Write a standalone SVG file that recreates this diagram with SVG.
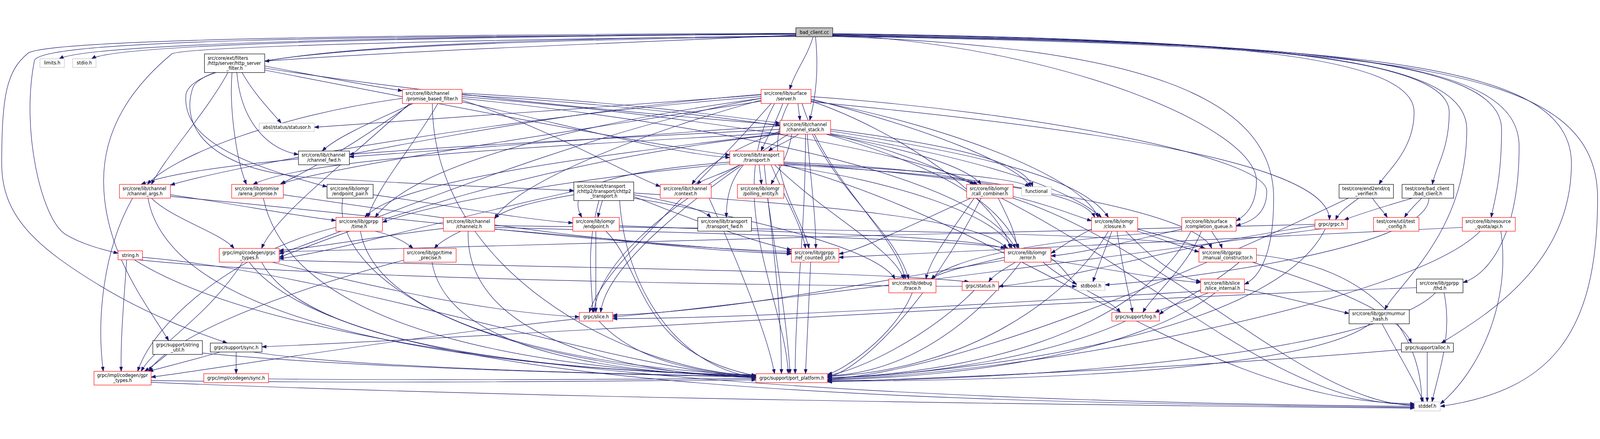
<svg xmlns="http://www.w3.org/2000/svg" width="4648" height="1124" viewBox="0 0 4648 1124">
<style>
svg{max-width:100vw;max-height:100vh}
.node rect{fill:#fff;stroke:#000;stroke-width:1.33}
.red rect{stroke:#ff0000}
.ext rect{stroke:#bfbfbf}
.root rect{fill:#bfbfbf;stroke:#000}
text{font-family:"DejaVu Sans","Liberation Sans",sans-serif;font-size:13px;fill:#000}
.m{text-anchor:middle}
.edge path{fill:none;stroke:#191970;stroke-width:1.33;marker-end:url(#ah)}
</style>
<defs>
<marker id="ah" markerUnits="userSpaceOnUse" markerWidth="14" markerHeight="10" refX="13" refY="5" orient="auto"><path d="M0,0.3 L13,5 L0,9.7 z" fill="#191970" stroke="#191970" stroke-width="1"/></marker>
</defs>
<rect x="0" y="0" width="4648" height="1124" fill="#fff"/>
<g id="edges" class="edge">
<path d="M2312,22 C1200,30 260,50 172,95"/>
<path d="M2312,23 C1200,32 340,52 266,95"/>
<path d="M2312,26 C1800,50 1200,70 769,102"/>
<path d="M2362,31 C2345,90 2310,130 2294,184"/>
<path d="M2369,31 C2378,120 2372,200 2352,274"/>
<path d="M2312,28 C1400,40 560,60 540,200 C530,330 700,400 950,467"/>
<path d="M2312,30 C1300,45 600,70 560,180 C520,300 620,420 900,440 C1200,460 1500,470 1667,478"/>
<path d="M2419,22 C3500,35 4108,80 4108,250 C4108,360 4030,420 4006,460"/>
<path d="M2419,23 C3600,40 4210,90 4210,250 C4210,360 4170,410 4161,460"/>
<path d="M2419,26 C3800,45 4362,100 4362,300 C4362,450 4340,510 4332,556"/>
<path d="M2419,24 C3700,40 4261,90 4261,300 C4261,600 4060,750 4023,824"/>
<path d="M2419,27 C3900,50 4413,100 4413,350 C4413,600 4330,720 4250,745"/>
<path d="M2419,28 C4000,55 4565,110 4565,400 C4565,700 4300,850 4187,921"/>
<path d="M2419,29 C4100,60 4641,120 4641,500 C4641,900 4500,1060 4184,1105"/>
<path d="M2312,24 C1000,30 120,40 100,100 C60,300 120,560 190,605 C240,635 300,650 343,660"/>
<path d="M2312,21 C1000,26 120,40 80,80 C20,130 5,200 5,400 C5,550 100,640 300,760 C450,850 600,900 660,921"/>
<path d="M2312,29 C1300,40 560,60 500,80 C380,180 301,300 301,450 C301,650 420,800 490,914"/>
<path d="M2419,30 C3300,60 3700,200 3700,500 C3700,680 3650,735 3615,750"/>
<path d="M2419,25 C3100,60 3650,300 3650,450 C3650,520 3620,550 3591,566"/>
<path d="M2356,205 C3000,250 3680,380 3680,480 C3680,550 3630,570 3591,580"/>
<path d="M769,116 C950,150 1050,170 1169,188"/>
<path d="M769,122 C1200,190 1800,250 2266,287"/>
<path d="M662,135 C600,250 480,380 440,460"/>
<path d="M674,135 C665,250 690,400 716,460"/>
<path d="M703,135 C740,200 790,250 817,282"/>
<path d="M688,135 C700,280 780,360 867,373"/>
<path d="M769,128 C1300,230 1800,330 2120,375"/>
<path d="M2318,225 C2320,245 2322,255 2324,274"/>
<path d="M2274,225 C2255,280 2225,330 2211,363"/>
<path d="M2356,220 C3200,300 3862,400 3862,563"/>
<path d="M2211,205 C1500,260 700,400 495,462"/>
<path d="M2211,215 C1900,300 1500,450 1437,560"/>
<path d="M2330,225 C2400,450 2600,600 2630,735"/>
<path d="M2211,200 C1800,230 1300,270 913,294"/>
<path d="M2211,210 C1700,300 1000,600 811,662"/>
<path d="M2290,225 C2200,400 2330,550 2350,646"/>
<path d="M2250,225 C2100,500 2280,800 2290,1010"/>
<path d="M2356,212 C2700,300 2950,400 2995,467"/>
<path d="M2211,210 C1700,280 1200,400 1090,556"/>
<path d="M2211,198 C1700,240 1300,320 1015,373"/>
<path d="M2211,218 C1700,300 1000,400 816,458"/>
<path d="M2356,218 C2600,300 2900,500 2935,646"/>
<path d="M2240,225 C2000,500 1750,700 1712,832"/>
<path d="M2356,215 C2800,300 3150,450 3190,556"/>
<path d="M1342,195 C1800,220 2100,260 2266,282"/>
<path d="M1169,210 C800,260 500,380 428,460"/>
<path d="M1200,225 C1100,270 980,320 936,363"/>
<path d="M1195,225 C1050,330 900,420 815,458"/>
<path d="M1342,215 C1600,300 1800,420 1918,466"/>
<path d="M1272,225 C1200,350 1100,460 1068,556"/>
<path d="M1342,205 C2000,260 2600,350 2840,460"/>
<path d="M1342,200 C2200,250 3000,380 3200,556"/>
<path d="M1342,210 C2200,300 2850,450 2950,646"/>
<path d="M1342,220 C1700,300 1950,370 2120,382"/>
<path d="M1256,225 C1256,700 1800,1000 2196,1016"/>
<path d="M1190,225 C1000,400 800,550 760,646"/>
<path d="M2320,314 C2290,335 2250,350 2232,363"/>
<path d="M2266,305 C2150,350 2050,400 2010,460"/>
<path d="M2300,314 C2290,380 2260,420 2240,460"/>
<path d="M2400,314 C2600,350 2800,400 2850,460"/>
<path d="M2413,300 C2800,350 2980,400 3000,467"/>
<path d="M2266,290 C1800,320 1300,360 1015,380"/>
<path d="M2266,300 C1500,340 600,380 410,460"/>
<path d="M2266,310 C1600,350 900,380 735,460"/>
<path d="M2266,312 C1700,380 1150,450 1060,556"/>
<path d="M2413,305 C2900,380 3150,450 3220,556"/>
<path d="M2400,314 C2700,400 2900,500 2960,646"/>
<path d="M2360,314 C2450,500 2600,600 2640,735"/>
<path d="M2266,314 C1500,400 1000,600 811,672"/>
<path d="M2340,314 C2340,600 2310,800 2310,1010"/>
<path d="M2413,314 C3200,500 3600,1100 4109,1100"/>
<path d="M2345,314 C2355,450 2370,550 2370,646"/>
<path d="M2290,314 C2000,500 1760,700 1745,832"/>
<path d="M2150,403 C2100,430 2040,445 2025,460"/>
<path d="M2205,403 C2208,425 2210,440 2212,460"/>
<path d="M2160,403 C2120,450 2110,500 2110,556"/>
<path d="M2277,395 C2600,410 2780,430 2830,460"/>
<path d="M2277,400 C2700,420 2950,440 2990,467"/>
<path d="M2120,395 C1700,430 1650,480 1690,556"/>
<path d="M2277,403 C2800,430 3150,480 3180,556"/>
<path d="M2260,403 C2600,450 2900,550 2940,646"/>
<path d="M2240,403 C2280,500 2330,580 2340,646"/>
<path d="M2250,403 C2400,550 2600,650 2625,735"/>
<path d="M2120,400 C1600,450 1250,520 1111,570"/>
<path d="M2220,403 C2240,600 2270,800 2270,1010"/>
<path d="M2277,403 C3000,600 3500,1097 4109,1097"/>
<path d="M2150,403 C1900,550 1740,700 1725,832"/>
<path d="M2277,398 C3000,450 3480,550 3520,646"/>
<path d="M385,500 C300,650 280,850 300,1003"/>
<path d="M440,500 C500,560 640,600 680,646"/>
<path d="M495,490 C700,520 850,550 976,565"/>
<path d="M495,495 C1200,560 1800,640 2299,655"/>
<path d="M430,500 C500,900 1500,1000 2196,1016"/>
<path d="M765,500 C850,900 1600,1000 2196,1018"/>
<path d="M823,490 C1300,560 1900,650 2299,662"/>
<path d="M1084,490 C1300,520 1500,560 1664,572"/>
<path d="M996,500 C960,700 1300,980 2196,1020"/>
<path d="M1750,507 C1745,525 1740,540 1737,556"/>
<path d="M1841,490 C1950,510 2040,530 2065,556"/>
<path d="M1667,490 C1550,510 1470,530 1437,558"/>
<path d="M1841,500 C2200,560 2550,650 2600,735"/>
<path d="M1841,495 C2000,560 2200,630 2299,650"/>
<path d="M1841,485 C2400,520 2850,560 2925,646"/>
<path d="M1740,507 C1700,650 1720,750 1722,832"/>
<path d="M1667,480 C1300,560 1000,650 811,676"/>
<path d="M1800,507 C1820,800 2000,1000 2196,1020"/>
<path d="M2060,500 C2150,700 2230,900 2250,1010"/>
<path d="M2230,500 C2260,700 2290,900 2295,1010"/>
<path d="M2943,495 C3050,520 3120,550 3171,566"/>
<path d="M2830,500 C2760,600 2700,680 2690,735"/>
<path d="M2820,500 C2600,600 2500,650 2437,662"/>
<path d="M2850,500 C2700,800 2500,1000 2404,1020"/>
<path d="M2943,500 C3400,650 3800,1100 4109,1102"/>
<path d="M2900,500 C2930,560 2950,600 2955,646"/>
<path d="M3947,500 C3920,520 3890,540 3880,563"/>
<path d="M3987,500 C4000,520 4020,540 4030,556"/>
<path d="M3917,500 C3500,700 2800,1000 2404,1026"/>
<path d="M4103,500 C4000,530 3940,550 3905,563"/>
<path d="M4130,500 C4110,520 4090,540 4080,556"/>
<path d="M4151,500 C4150,650 3400,740 3210,752"/>
<path d="M1090,596 C1150,610 1180,630 1200,646"/>
<path d="M1047,596 C1100,900 1800,1000 2196,1014"/>
<path d="M976,585 C700,650 450,850 400,1003"/>
<path d="M1338,596 C1300,615 1275,630 1262,646"/>
<path d="M1288,588 C1100,610 950,640 811,652"/>
<path d="M1437,590 C1800,620 2100,650 2299,660"/>
<path d="M1360,596 C1350,900 1800,1010 2196,1022"/>
<path d="M1437,585 C2000,600 2800,620 2930,646"/>
<path d="M1437,580 C2300,590 3400,600 3500,646"/>
<path d="M1731,596 C1731,700 1731,780 1731,832"/>
<path d="M1760,596 C1870,700 1850,950 2196,1016"/>
<path d="M1799,580 C2300,600 2800,610 2920,646"/>
<path d="M3230,596 C3210,650 3190,700 3175,743"/>
<path d="M3245,596 C3260,700 3280,780 3290,832"/>
<path d="M3305,596 C3380,620 3440,645 3483,656"/>
<path d="M3171,590 C3110,620 3080,645 3053,660"/>
<path d="M3220,596 C3100,800 2800,1000 2404,1018"/>
<path d="M3305,590 C3700,700 4050,800 4100,921"/>
<path d="M3270,596 C3350,680 3420,730 3488,742"/>
<path d="M3520,596 C3530,615 3545,630 3550,646"/>
<path d="M3433,590 C3300,620 3150,660 3053,668"/>
<path d="M3433,596 C3000,620 2760,680 2705,735"/>
<path d="M3460,596 C3300,900 2800,1010 2404,1022"/>
<path d="M3490,596 C3450,700 3350,780 3320,832"/>
<path d="M3820,576 C3000,600 1500,630 811,656"/>
<path d="M3820,580 C3400,640 3100,740 2901,756"/>
<path d="M3840,589 C3000,700 2000,830 1780,845"/>
<path d="M3850,589 C3700,900 2800,1010 2404,1022"/>
<path d="M4360,596 C4390,800 4300,1000 4184,1098"/>
<path d="M4300,596 C4100,800 3000,1010 2404,1026"/>
<path d="M4248,585 C3500,620 2800,660 2437,672"/>
<path d="M368,679 C360,800 350,900 352,1003"/>
<path d="M414,672 C1000,720 1800,1000 2196,1020"/>
<path d="M400,679 C1000,740 2500,760 3128,756"/>
<path d="M390,679 C900,1000 2500,1090 4109,1105"/>
<path d="M705,686 C600,850 450,930 410,1003"/>
<path d="M811,680 C1500,700 2500,710 2815,743"/>
<path d="M790,686 C1100,760 1400,830 1683,845"/>
<path d="M760,686 C900,950 1700,1005 2196,1014"/>
<path d="M724,686 C1000,1050 2500,1090 4109,1108"/>
<path d="M1173,680 C800,780 500,900 432,1003"/>
<path d="M1255,686 C1300,950 1800,1010 2196,1018"/>
<path d="M2355,686 C2350,800 2345,900 2340,1010"/>
<path d="M2918,672 C2800,700 2730,715 2705,735"/>
<path d="M2950,686 C2910,710 2885,725 2872,743"/>
<path d="M3053,675 C3090,700 3110,740 3128,750"/>
<path d="M2918,680 C2500,750 2100,830 1780,840"/>
<path d="M3030,686 C3100,750 3220,790 3255,832"/>
<path d="M3053,680 C3300,720 3400,740 3488,745"/>
<path d="M2965,686 C2800,900 2600,1010 2404,1016"/>
<path d="M3600,686 C3500,770 3400,810 3368,838"/>
<path d="M3650,665 C4000,700 4130,900 4130,1092"/>
<path d="M2650,775 C2600,900 2450,1000 2404,1012"/>
<path d="M2830,768 C2700,900 2500,1000 2404,1015"/>
<path d="M3510,775 C3450,800 3390,815 3355,832"/>
<path d="M3488,770 C3000,800 2200,850 1780,850"/>
<path d="M3615,765 C3750,790 3850,820 3919,835"/>
<path d="M3530,775 C3300,950 2800,1020 2404,1028"/>
<path d="M4115,760 C3000,800 1500,900 761,932"/>
<path d="M4170,775 C4000,950 3000,1030 2404,1030"/>
<path d="M4195,775 C4220,900 4180,1000 4160,1092"/>
<path d="M1740,857 C1850,980 2050,1010 2196,1014"/>
<path d="M1683,850 C1200,900 600,1000 439,1020"/>
<path d="M3270,857 C3000,980 2600,1020 2404,1022"/>
<path d="M3980,865 C3800,1000 3000,1030 2404,1032"/>
<path d="M4015,865 C4060,950 4110,1030 4135,1092"/>
<path d="M485,954 C460,975 440,990 420,1003"/>
<path d="M588,950 C1000,990 1700,1010 2196,1020"/>
<path d="M640,947 C560,970 480,990 432,1003"/>
<path d="M686,947 C686,970 686,990 686,1010"/>
<path d="M735,947 C1000,990 1700,1010 2196,1018"/>
<path d="M4071,940 C3500,990 2800,1020 2404,1034"/>
<path d="M4146,947 C4146,1000 4146,1050 4146,1092"/>
<path d="M439,1035 C1500,1080 3000,1100 4109,1110"/>
<path d="M439,1030 C1200,1040 1800,1030 2196,1028"/>
<path d="M780,1025 C1200,1030 1800,1026 2196,1024"/>
</g>
<g id="n0" class="node root"><rect x="2312" y="5" width="107" height="26"/><text class="m" x="2365.5" y="22.5">bad_client.cc</text></g>
<g id="n1" class="node ext"><rect x="116" y="95" width="71" height="25"/><text class="m" x="151.5" y="112">limits.h</text></g>
<g id="n2" class="node ext"><rect x="211" y="95" width="68" height="25"/><text class="m" x="245" y="112">stdio.h</text></g>
<g id="n3" class="node"><rect x="594" y="81" width="175" height="54"/><text x="603" y="98">src/core/ext/filters</text><text x="603" y="112.5">/http/server/http_server</text><text class="m" x="681.5" y="127">_filter.h</text></g>
<g id="n4" class="node red"><rect x="2211" y="184" width="145" height="41"/><text x="2220" y="200.5">src/core/lib/surface</text><text class="m" x="2283.5" y="215.5">/server.h</text></g>
<g id="n5" class="node red"><rect x="1169" y="184" width="173" height="41"/><text x="1178" y="200.5">src/core/lib/channel</text><text class="m" x="1255.5" y="215.5">/promise_based_filter.h</text></g>
<g id="n6" class="node ext"><rect x="753" y="282" width="160" height="24"/><text class="m" x="833" y="298.5">absl/status/statusor.h</text></g>
<g id="n7" class="node red"><rect x="2266" y="274" width="147" height="40"/><text x="2275" y="290.5">src/core/lib/channel</text><text class="m" x="2339.5" y="305.5">/channel_stack.h</text></g>
<g id="n8" class="node"><rect x="867" y="363" width="148" height="40"/><text x="876" y="379.5">src/core/lib/channel</text><text class="m" x="941" y="394.5">/channel_fwd.h</text></g>
<g id="n9" class="node red"><rect x="2120" y="363" width="157" height="40"/><text x="2129" y="379.5">src/core/lib/transport</text><text class="m" x="2198.5" y="394.5">/transport.h</text></g>
<g id="n10" class="node red"><rect x="347" y="460" width="148" height="40"/><text x="356" y="476.5">src/core/lib/channel</text><text class="m" x="421" y="491.5">/channel_args.h</text></g>
<g id="n11" class="node red"><rect x="673" y="460" width="150" height="40"/><text x="682" y="476.5">src/core/lib/promise</text><text class="m" x="748" y="491.5">/arena_promise.h</text></g>
<g id="n12" class="node"><rect x="950" y="460" width="134" height="40"/><text x="959" y="476.5">src/core/lib/iomgr</text><text class="m" x="1017" y="491.5">/endpoint_pair.h</text></g>
<g id="n13" class="node"><rect x="1667" y="453" width="174" height="54"/><text x="1676" y="470">src/core/ext/transport</text><text x="1676" y="484.5">/chttp2/transport/chttp2</text><text class="m" x="1754" y="499">_transport.h</text></g>
<g id="n14" class="node red"><rect x="1918" y="460" width="148" height="40"/><text x="1927" y="476.5">src/core/lib/channel</text><text class="m" x="1992" y="491.5">/context.h</text></g>
<g id="n15" class="node red"><rect x="2142" y="460" width="135" height="40"/><text x="2151" y="476.5">src/core/lib/iomgr</text><text class="m" x="2209.5" y="491.5">/polling_entity.h</text></g>
<g id="n16" class="node red"><rect x="2808" y="460" width="135" height="40"/><text x="2817" y="476.5">src/core/lib/iomgr</text><text class="m" x="2875.5" y="491.5">/call_combiner.h</text></g>
<g id="n17" class="node ext"><rect x="2968" y="467" width="86" height="26"/><text class="m" x="3011" y="484.5">functional</text></g>
<g id="n18" class="node"><rect x="3890" y="460" width="158" height="40"/><text x="3899" y="476.5">test/core/end2end/cq</text><text class="m" x="3969" y="491.5">_verifier.h</text></g>
<g id="n19" class="node"><rect x="4073" y="460" width="150" height="40"/><text x="4082" y="476.5">test/core/bad_client</text><text class="m" x="4148" y="491.5">/bad_client.h</text></g>
<g id="n20" class="node red"><rect x="976" y="556" width="135" height="40"/><text x="985" y="572.5">src/core/lib/gprpp</text><text class="m" x="1043.5" y="587.5">/time.h</text></g>
<g id="n21" class="node red"><rect x="1288" y="556" width="149" height="40"/><text x="1297" y="572.5">src/core/lib/channel</text><text class="m" x="1362.5" y="587.5">/channelz.h</text></g>
<g id="n22" class="node red"><rect x="1664" y="556" width="135" height="40"/><text x="1673" y="572.5">src/core/lib/iomgr</text><text class="m" x="1731.5" y="587.5">/endpoint.h</text></g>
<g id="n23" class="node"><rect x="2027" y="556" width="156" height="40"/><text x="2036" y="572.5">src/core/lib/transport</text><text class="m" x="2105" y="587.5">/transport_fwd.h</text></g>
<g id="n24" class="node red"><rect x="3171" y="556" width="134" height="40"/><text x="3180" y="572.5">src/core/lib/iomgr</text><text class="m" x="3238" y="587.5">/closure.h</text></g>
<g id="n25" class="node red"><rect x="3433" y="556" width="158" height="40"/><text x="3442" y="572.5">src/core/lib/surface</text><text class="m" x="3512" y="587.5">/completion_queue.h</text></g>
<g id="n26" class="node red"><rect x="3820" y="563" width="94" height="26"/><text class="m" x="3867" y="580.5">grpc/grpc.h</text></g>
<g id="n27" class="node red"><rect x="3990" y="556" width="132" height="40"/><text x="3999" y="572.5">test/core/util/test</text><text class="m" x="4056" y="587.5">_config.h</text></g>
<g id="n28" class="node red"><rect x="4248" y="556" width="154" height="40"/><text x="4257" y="572.5">src/core/lib/resource</text><text class="m" x="4325" y="587.5">_quota/api.h</text></g>
<g id="n29" class="node red"><rect x="343" y="653" width="71" height="26"/><text class="m" x="378.5" y="670.5">string.h</text></g>
<g id="n30" class="node red"><rect x="637" y="646" width="174" height="40"/><text x="646" y="662.5">grpc/impl/codegen/grpc</text><text class="m" x="724" y="677.5">_types.h</text></g>
<g id="n31" class="node red"><rect x="1173" y="646" width="152" height="40"/><text x="1182" y="662.5">src/core/lib/gpr/time</text><text class="m" x="1249" y="677.5">_precise.h</text></g>
<g id="n32" class="node red"><rect x="2299" y="646" width="138" height="40"/><text x="2308" y="662.5">src/core/lib/gprpp</text><text class="m" x="2368" y="677.5">/ref_counted_ptr.h</text></g>
<g id="n33" class="node red"><rect x="2918" y="646" width="135" height="40"/><text x="2927" y="662.5">src/core/lib/iomgr</text><text class="m" x="2985.5" y="677.5">/error.h</text></g>
<g id="n34" class="node red"><rect x="3483" y="646" width="167" height="40"/><text x="3492" y="662.5">src/core/lib/gprpp</text><text class="m" x="3566.5" y="677.5">/manual_constructor.h</text></g>
<g id="n35" class="node red"><rect x="2582" y="735" width="137" height="40"/><text x="2591" y="751.5">src/core/lib/debug</text><text class="m" x="2650.5" y="766.5">/trace.h</text></g>
<g id="n36" class="node red"><rect x="2795" y="743" width="106" height="25"/><text class="m" x="2848" y="760">grpc/status.h</text></g>
<g id="n37" class="node ext"><rect x="3128" y="743" width="82" height="25"/><text class="m" x="3169" y="760">stdbool.h</text></g>
<g id="n38" class="node red"><rect x="3488" y="735" width="127" height="40"/><text x="3497" y="751.5">src/core/lib/slice</text><text class="m" x="3551.5" y="766.5">/slice_internal.h</text></g>
<g id="n39" class="node"><rect x="4115" y="735" width="135" height="40"/><text x="4124" y="751.5">src/core/lib/gprpp</text><text class="m" x="4182.5" y="766.5">/thd.h</text></g>
<g id="n40" class="node red"><rect x="1683" y="832" width="97" height="25"/><text class="m" x="1731.5" y="849">grpc/slice.h</text></g>
<g id="n41" class="node red"><rect x="3230" y="832" width="138" height="25"/><text class="m" x="3299" y="849">grpc/support/log.h</text></g>
<g id="n42" class="node"><rect x="3919" y="824" width="175" height="41"/><text x="3928" y="840.5">src/core/lib/gpr/murmur</text><text class="m" x="4006.5" y="855.5">_hash.h</text></g>
<g id="n43" class="node"><rect x="444" y="914" width="144" height="40"/><text x="453" y="930.5">grpc/support/string</text><text class="m" x="516" y="945.5">_util.h</text></g>
<g id="n44" class="node"><rect x="611" y="921" width="150" height="26"/><text class="m" x="686" y="938.5">grpc/support/sync.h</text></g>
<g id="n45" class="node"><rect x="4071" y="921" width="151" height="26"/><text class="m" x="4146.5" y="938.5">grpc/support/alloc.h</text></g>
<g id="n46" class="node red"><rect x="273" y="1003" width="166" height="40"/><text x="282" y="1019.5">grpc/impl/codegen/gpr</text><text class="m" x="356" y="1034.5">_types.h</text></g>
<g id="n47" class="node red"><rect x="592" y="1010" width="188" height="26"/><text class="m" x="686" y="1027.5">grpc/impl/codegen/sync.h</text></g>
<g id="n48" class="node red"><rect x="2196" y="1010" width="208" height="26"/><text class="m" x="2300" y="1027.5">grpc/support/port_platform.h</text></g>
<g id="n49" class="node ext"><rect x="4109" y="1092" width="75" height="26"/><text class="m" x="4146.5" y="1109.5">stddef.h</text></g>
</svg>
